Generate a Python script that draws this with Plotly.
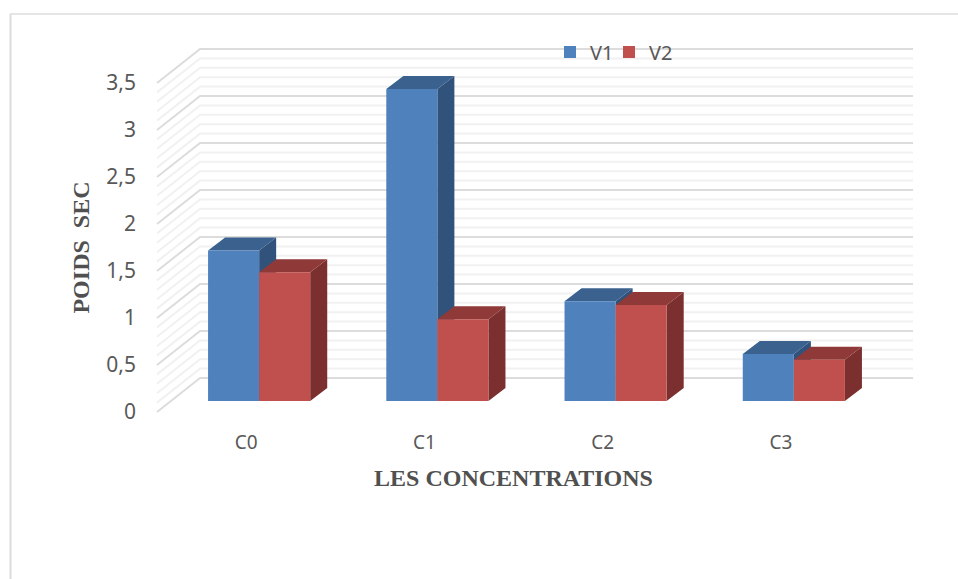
import plotly.graph_objects as go

categories = ["C0", "C1", "C2", "C3"]
v1 = [1.60, 3.32, 1.06, 0.50]
v2 = [1.37, 0.87, 1.02, 0.44]
y_ticks = [0, 0.5, 1, 1.5, 2, 2.5, 3, 3.5]
y_labels = ["0", "0,5", "1", "1,5", "2", "2,5", "3", "3,5"]
minor_ticks = [0.1, 0.2, 0.3, 0.4, 0.6, 0.7, 0.8, 0.9, 1.1, 1.2, 1.3, 1.4, 1.6, 1.7, 1.8, 1.9,
               2.1, 2.2, 2.3, 2.4, 2.6, 2.7, 2.8, 2.9, 3.1, 3.2, 3.3, 3.4]

# pixel scale of the oblique projection
PX_CAT, PX_VAL = 178.0, 94.0
WALL_DX, WALL_DY = 43 / PX_CAT, 34 / PX_VAL
BAR_X0, BAR_LIFT = 13 / PX_CAT, 11 / PX_VAL
BAR_W = 51 / PX_CAT
BAR_DX, BAR_DY = 17 / PX_CAT, 13 / PX_VAL
X_MIN, X_MAX = -0.5, 3.5

INK = "#595959"
TITLE = "#505050"


def wall_lines(vals):
    xs, ys = [], []
    for v in vals:
        xs += [X_MIN, X_MIN + WALL_DX, X_MAX + WALL_DX, None]
        ys += [v, v + WALL_DY, v + WALL_DY, None]
    return xs, ys


fig = go.Figure()
for vals, col, w in [(minor_ticks, "#f1f1f1", 2), (y_ticks, "#dcdcdc", 2)]:
    xs, ys = wall_lines(vals)
    fig.add_trace(go.Scatter(x=xs, y=ys, mode="lines", line=dict(color=col, width=w),
                             hoverinfo="skip", showlegend=False, zorder=0))


def add_series(name, vals, left, front, top, side, z, legend):
    xs_side, ys_side, xs_top, ys_top = [], [], [], []
    for i, v in enumerate(vals):
        x0 = i + left
        x1 = x0 + BAR_W
        y0, y1 = BAR_LIFT, BAR_LIFT + v
        xs_side += [x1, x1 + BAR_DX, x1 + BAR_DX, x1, x1, None]
        ys_side += [y0, y0 + BAR_DY, y1 + BAR_DY, y1, y0, None]
        xs_top += [x0, x0 + BAR_DX, x1 + BAR_DX, x1, x0, None]
        ys_top += [y1, y1 + BAR_DY, y1 + BAR_DY, y1, y1, None]
    for xs, ys, c in [(xs_side, ys_side, side), (xs_top, ys_top, top)]:
        fig.add_trace(go.Scatter(x=xs, y=ys, mode="lines", fill="toself", fillcolor=c,
                                 line=dict(width=0, color=c), hoverinfo="skip",
                                 showlegend=False, zorder=z))
    fig.add_trace(go.Bar(name=name, x=[i + left for i in range(len(vals))], y=vals,
                         base=[BAR_LIFT] * len(vals), width=BAR_W, offset=0,
                         marker=dict(color=front, line=dict(width=0)),
                         cliponaxis=False, zorder=z + 1, legend=legend, showlegend=True))


add_series("V1", v1, BAR_X0 - BAR_W, "#4F81BD", "#3B618F", "#31527A", 1, "legend")
add_series("V2", v2, BAR_X0, "#C0504D", "#8F3A38", "#7B2F2E", 3, "legend2")

# empty trace so that the title-carrying axes are drawn
fig.add_trace(go.Scatter(x=[None], y=[None], xaxis="x2", yaxis="y2", mode="lines",
                         hoverinfo="skip", showlegend=False))

W, H = 958, 579
FRONT_L, FRONT_R, FRONT_T, FRONT_B = 157, 870, 83, 412   # front plane, 0..3.5
L, R, T, B = 155, 915, 46, 415                            # drawing area
x_lo = X_MIN - (FRONT_L - L) / PX_CAT
x_hi = X_MAX + (R - FRONT_R) / PX_CAT
y_lo = -(B - FRONT_B) / PX_VAL
y_hi = 3.5 + (FRONT_T - T) / PX_VAL


def legend_at(px):
    return dict(x=(px - L) / (R - L), xanchor="left", y=(B - 52) / (B - T), yanchor="middle",
                bgcolor="rgba(0,0,0,0)", font=dict(size=20, color=INK))


fig.update_layout(
    width=W, height=H,
    margin=dict(l=L, r=W - R, t=T, b=H - B, autoexpand=False),
    paper_bgcolor="white", plot_bgcolor="rgba(0,0,0,0)",
    barmode="overlay",
    font=dict(family="Noto Sans", color=INK),
    legend=legend_at(550),
    legend2=legend_at(609),
    xaxis=dict(range=[x_lo, x_hi], tickmode="array", tickvals=list(range(len(categories))),
               ticktext=categories, tickfont=dict(size=19, color=INK), showgrid=False,
               zeroline=False, showline=False, ticks="", ticklabelstandoff=14),
    yaxis=dict(range=[y_lo, y_hi], tickmode="array", tickvals=y_ticks, ticktext=y_labels,
               tickfont=dict(size=21, color=INK), showgrid=False, zeroline=False,
               showline=False, ticks="", ticklabelstandoff=18),
    # axes spanning the front plane only: they carry the axis titles
    xaxis2=dict(domain=[(FRONT_L - L) / (R - L), (FRONT_R - L) / (R - L)], anchor="y2",
                range=[X_MIN, X_MAX], showgrid=False, zeroline=False, showline=False,
                showticklabels=False, ticks="",
                title=dict(text="<b>LES CONCENTRATIONS</b>", standoff=57,
                           font=dict(family="Liberation Serif", size=24, color=TITLE))),
    yaxis2=dict(domain=[(B - FRONT_B) / (B - T), (B - FRONT_T) / (B - T)], anchor="x2",
                range=[0, 3.5], showgrid=False, zeroline=False, showline=False,
                showticklabels=False, ticks="",
                title=dict(text="<b>POIDS  SEC</b>", standoff=59,
                           font=dict(family="Liberation Serif", size=24, color=TITLE))),
    shapes=[
        dict(type="line", xref="paper", yref="paper", layer="below",
             x0=(10 - L) / (R - L), x1=(W - L) / (R - L),
             y0=(B - 14) / (B - T), y1=(B - 14) / (B - T), line=dict(color="#dcdcdc", width=1.5)),
        dict(type="line", xref="paper", yref="paper", layer="below",
             x0=(10.5 - L) / (R - L), x1=(10.5 - L) / (R - L),
             y0=(B - 14) / (B - T), y1=(B - H) / (B - T), line=dict(color="#dcdcdc", width=2)),
    ],
)
fig.write_html("out.html", config=dict(displayModeBar=False),
               post_script="document.body.style.margin='0';document.body.style.overflow='hidden';")
